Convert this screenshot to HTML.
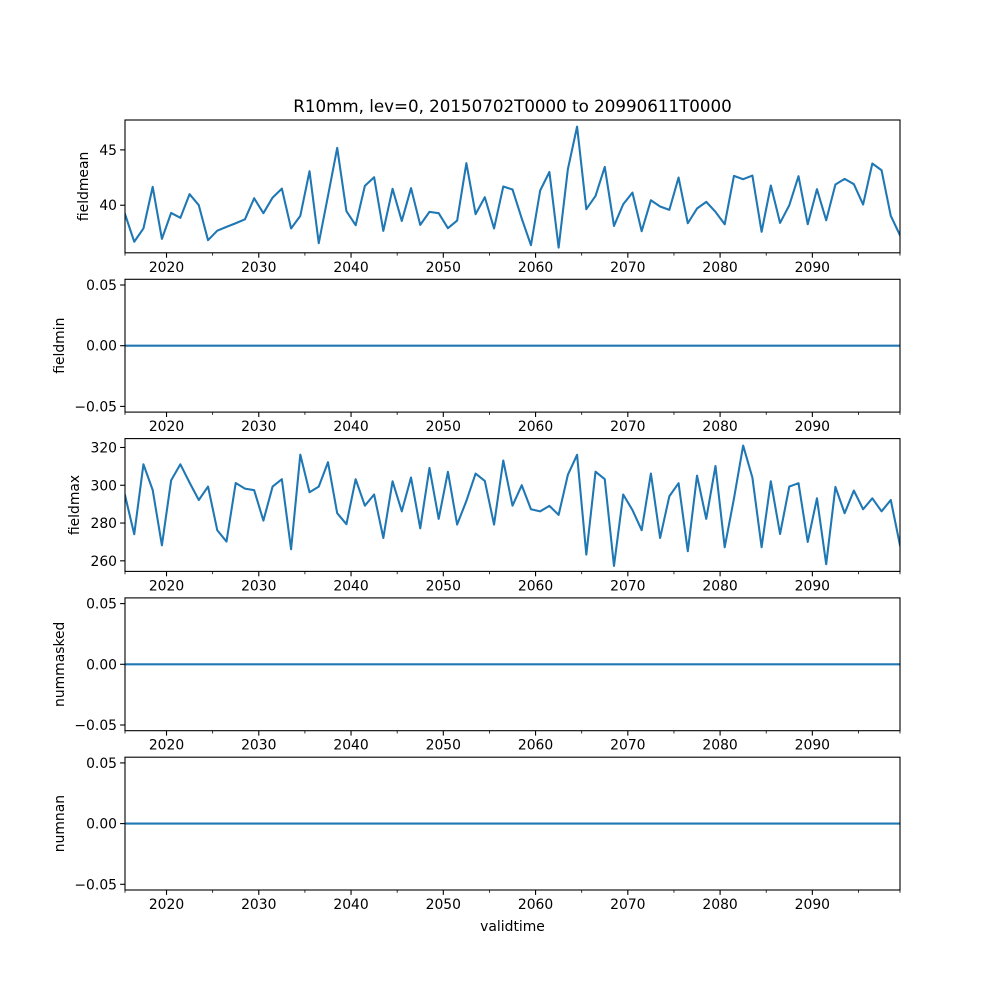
<!DOCTYPE html>
<html><head><meta charset="utf-8"><style>
html,body{margin:0;padding:0;background:#fff;}
svg{display:block;font-family:"DejaVu Sans","Liberation Sans",sans-serif;}
</style></head><body>
<svg id="fig" width="1000" height="1000" viewBox="0 0 1000 1000" xmlns="http://www.w3.org/2000/svg">
<rect width="1000" height="1000" fill="#fff"/>
<text x="512.5" y="112" font-size="16.7" text-anchor="middle">R10mm, lev=0, 20150702T0000 to 20990611T0000</text>
<text x="512.5" y="931" font-size="13.9" text-anchor="middle">validtime</text>
</svg>
<script>
const fieldmean = [39.2,36.7,37.9,41.66,36.96,39.3,38.86,41.0,40.0,36.84,37.7,38.04,38.37,38.73,40.63,39.28,40.69,41.5,37.9,39.04,43.07,36.57,40.84,45.18,39.46,38.19,41.75,42.53,37.68,41.48,38.58,41.54,38.22,39.4,39.28,37.92,38.61,43.8,39.19,40.72,37.9,41.69,41.42,38.8,36.39,41.33,43.0,36.17,43.25,47.1,39.64,40.84,43.46,38.13,40.09,41.14,37.65,40.45,39.88,39.58,42.5,38.37,39.7,40.3,39.4,38.28,42.65,42.35,42.68,37.6,41.78,38.4,40.0,42.62,38.28,41.45,38.64,41.87,42.38,41.9,40.06,43.77,43.16,39.04,37.29];
const fieldmax = [294.7,274.1,311.1,297.5,268.2,302.6,311.1,301.4,292.2,299.3,276.2,270.2,301.2,298.2,297.4,281.3,299.3,303.2,266.1,316.2,296.3,299.3,312.2,285.2,279.4,303.2,289.2,295.1,272.1,302.1,286.2,304.1,277.2,309.2,282.2,307.1,279.2,291.7,306.2,302.3,279.2,313.1,289.2,300,287.3,286.2,289.1,284.3,305.5,316.1,263.3,307.2,303.2,257.3,295.1,286.9,276.2,306.2,272.1,294.2,301.1,265.1,305.1,282.2,310.2,267.2,292.9,321.0,304.1,267.2,302.1,274.2,299.3,301.1,270.0,293.1,258.2,299.1,285.2,297.2,287.3,293.1,286.2,292.2,268.2];
const fieldmin = new Array(85).fill(0);
const nummasked = new Array(85).fill(0);
const numnan = new Array(85).fill(0);
const startYear = 2015.5;
const xTickLabels = ["2020","2030","2040","2050","2060","2070","2080","2090"];
const xMinorYears = [2025,2035,2045,2055,2065,2075,2085,2095];
const meanTicks = ["40","45"];
const maxTicks = ["260","280","300","320"];
const zeroTicks = ["−0.05","0.00","0.05"];

const NS="http://www.w3.org/2000/svg";
const svg=document.getElementById('fig');
const L=125,R=900,H=132.8;
const X0=2015.5,X1=2099.5;
const xs=t=>L+(t-X0)*(R-L)/(X1-X0);
function mk(tag,attrs,parent){const e=document.createElementNS(NS,tag);for(const k in attrs)e.setAttribute(k,attrs[k]);(parent||svg).appendChild(e);return e;}
const panels=[
 {name:'fieldmean',data:fieldmean,lo:35.7,hi:47.7,ticks:meanTicks,vals:[40,45],lx:88},
 {name:'fieldmin',data:fieldmin,lo:-0.0547,hi:0.0547,ticks:zeroTicks,vals:[-0.05,0,0.05],lx:64},
 {name:'fieldmax',data:fieldmax,lo:254.4,hi:324.7,ticks:maxTicks,vals:[260,280,300,320],lx:79},
 {name:'nummasked',data:nummasked,lo:-0.0547,hi:0.0547,ticks:zeroTicks,vals:[-0.05,0,0.05],lx:64},
 {name:'numnan',data:numnan,lo:-0.0547,hi:0.0547,ticks:zeroTicks,vals:[-0.05,0,0.05],lx:64}
];
const tops=[120,279.3,438.6,597.9,757.2];
panels.forEach((p,pi)=>{
 const top=tops[pi],bot=top+H;
 const ys=v=>bot-(v-p.lo)*H/(p.hi-p.lo);
 const g=mk('g',{});
 
 
 let d='';
 p.data.forEach((v,i)=>{d+=(i?'L':'M')+xs(startYear+i).toFixed(2)+' '+ys(v).toFixed(2);});
 const clip=mk('clipPath',{id:'c'+pi},g);
 mk('rect',{x:L,y:top,width:R-L,height:H},clip);
 const line=mk('path',{d:d,fill:'none',stroke:'#1f77b4','stroke-width':2.08,'stroke-linejoin':'round','stroke-linecap':'square','clip-path':'url(#c'+pi+')'},g);
 
 
 const box=mk('rect',{x:L,y:top,width:R-L,height:H,fill:'none',stroke:'#000','stroke-width':1.1},g);
 
 
 p.vals.forEach((v,i)=>{
  const y=ys(v);
  mk('line',{x1:L-4.9,x2:L,y1:y,y2:y,stroke:'#000','stroke-width':1.1},g);
  const t=mk('text',{x:L-8,y:y+5,'font-size':13.9,'text-anchor':'end'},g);
  t.textContent=p.ticks[i];
  
  
 });
 xTickLabels.forEach(lbl=>{
  const x=xs(+lbl);
  mk('line',{x1:x,x2:x,y1:bot,y2:bot+4.9,stroke:'#000','stroke-width':1.1},g);
  const t=mk('text',{x:x,y:bot+19,'font-size':13.9,'text-anchor':'middle'},g);
  t.textContent=lbl;
  
  
 });
 xMinorYears.forEach(yr=>{
  const x=xs(yr);
  mk('line',{x1:x,x2:x,y1:bot,y2:bot+2.8,stroke:'#000','stroke-width':0.8},g);
 });
 mk('line',{x1:L,x2:L,y1:bot,y2:bot+2.8,stroke:'#000','stroke-width':0.8},g);
 mk('line',{x1:R,x2:R,y1:bot,y2:bot+2.8,stroke:'#000','stroke-width':0.8},g);
 const lx=p.lx, cy=(top+bot)/2;
 const yl=mk('text',{x:lx,y:cy,'font-size':13.9,'text-anchor':'middle',transform:'rotate(-90 '+lx+' '+cy+')'},g);
 yl.textContent=p.name;
 
 
});
</script>
</body></html>
